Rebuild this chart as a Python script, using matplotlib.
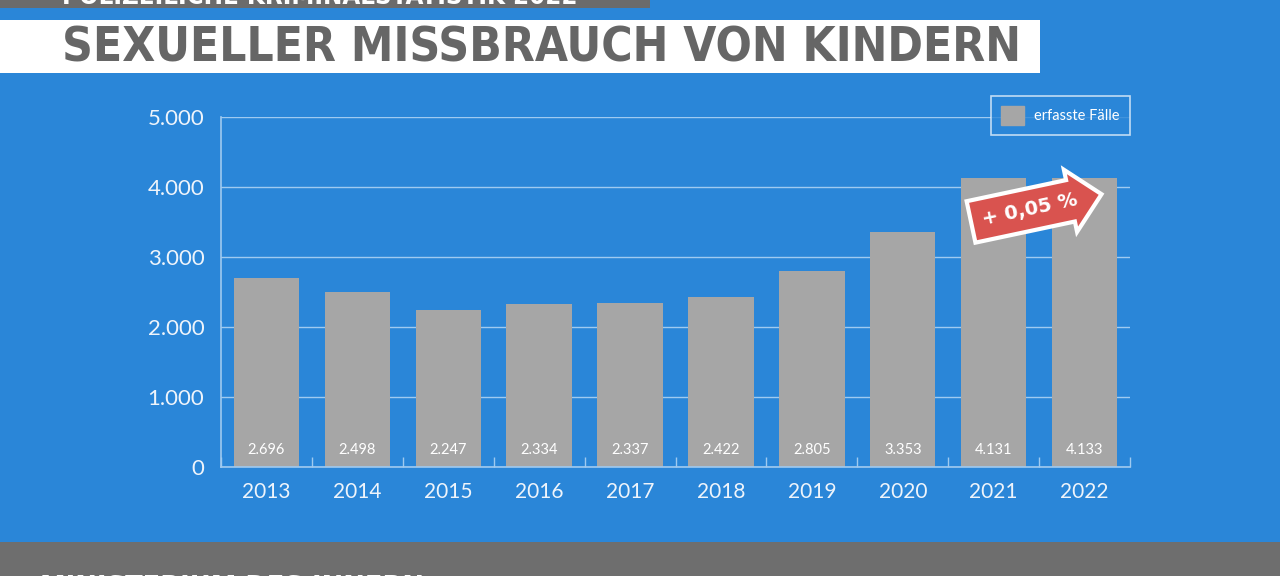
import matplotlib
matplotlib.use("Agg")
import matplotlib.pyplot as plt
import matplotlib.patches as mpatches
import numpy as np

# data
years = ["2013", "2014", "2015", "2016", "2017", "2018", "2019", "2020", "2021", "2022"]
cases = [2696, 2498, 2247, 2334, 2337, 2422, 2805, 3353, 4131, 4133]
value_labels = ["2.696", "2.498", "2.247", "2.334", "2.337", "2.422", "2.805", "3.353", "4.131", "4.133"]
y_ticks = [0, 1000, 2000, 3000, 4000, 5000]
y_tick_labels = ["0", "1.000", "2.000", "3.000", "4.000", "5.000"]

BLUE = "#2a86d8"
GRID = "#9fcaf0"
BAR = "#a6a6a6"
TXT = "#eef4fb"
DARK = "#6b6b6b"

fig = plt.figure(figsize=(12.8, 5.76), dpi=100)
fig.patch.set_facecolor(BLUE)

# header strips (cut off at the top edge like in the original)
fig.patches.append(mpatches.Rectangle((0, 1 - 8 / 576), 650 / 1280, 8 / 576,
                                      transform=fig.transFigure, fc=DARK, ec="none"))
fig.text(62 / 1280, 1 - 4 / 576, "POLIZEILICHE KRIMINALSTATISTIK 2022", color="white",
         fontsize=18.5, fontweight="bold", family="DejaVu Sans", fontstretch="condensed",
         va="baseline", ha="left")
fig.patches.append(mpatches.Rectangle((0, 1 - 73 / 576), 1040 / 1280, 53 / 576,
                                      transform=fig.transFigure, fc="white", ec="none"))
fig.text(62 / 1280, 1 - 48 / 576, "SEXUELLER MISSBRAUCH VON KINDERN", color="#666666",
         fontsize=34.3, fontweight="bold", family="DejaVu Sans", fontstretch="condensed",
         va="center", ha="left")

# footer band
fig.patches.append(mpatches.Rectangle((0, 0), 1, 34 / 576,
                                      transform=fig.transFigure, fc="#6e6e6e", ec="none"))
fig.text(40 / 1280, -19 / 576, "MINISTERIUM DES INNERN", color="white",
         fontsize=18.5, fontweight="bold", family="DejaVu Sans", va="baseline", ha="left")

ax = fig.add_axes([221 / 1280, 109 / 576, 909 / 1280, 350 / 576])
ax.set_facecolor("none")
x = np.arange(len(years))
ax.bar(x, cases, width=0.72, color=BAR, zorder=2)

for xi, lab in zip(x, value_labels):
    ax.text(xi, 240, lab, color="white", fontsize=10.5, ha="center", va="center",
            family="Lato", zorder=3)

ax.set_xlim(-0.5, len(years) - 0.5)
ax.set_ylim(0, 5000)
ax.set_yticks(y_ticks)
ax.set_yticklabels(y_tick_labels)
ax.set_xticks(x)
ax.set_xticklabels(years)
ax.set_xticks(np.arange(len(years) + 1) - 0.5, minor=True)
ax.tick_params(axis="y", length=0, pad=12, labelsize=16, labelcolor=TXT)
ax.tick_params(axis="x", which="major", length=0, pad=11, labelsize=15, labelcolor=TXT)
ax.tick_params(axis="x", which="minor", direction="in", length=7, color=GRID, width=1)
for lab in ax.get_xticklabels() + ax.get_yticklabels():
    lab.set_family("Lato")

ax.grid(axis="y", color=GRID, lw=1, zorder=1)
for side in ["top", "right"]:
    ax.spines[side].set_visible(False)
for side in ["left", "bottom"]:
    ax.spines[side].set_color(GRID)
    ax.spines[side].set_linewidth(1.2)

# legend
leg = ax.legend([mpatches.Patch(color=BAR)], ["erfasste Fälle"], loc="upper right",
                bbox_to_anchor=(1.0, 1.06), borderaxespad=0, frameon=True, fancybox=False,
                labelcolor="white", handlelength=1.6, handleheight=1.6,
                borderpad=0.7, handletextpad=0.7,
                prop={"family": "Lato", "size": 10.5})
leg.get_frame().set_facecolor(BLUE)
leg.get_frame().set_edgecolor("#e6f1fb")
leg.get_frame().set_linewidth(1.2)

# change arrow
ax.text(8.4, 3680, "+ 0,05 %", color="white", fontsize=14, fontweight="bold",
        family="DejaVu Sans", ha="center", va="center", rotation=12, zorder=5,
        bbox=dict(boxstyle="rarrow,pad=0.6", fc="#d9534f", ec="white", lw=3))

fig.savefig("out.png", dpi=100, facecolor=BLUE)
